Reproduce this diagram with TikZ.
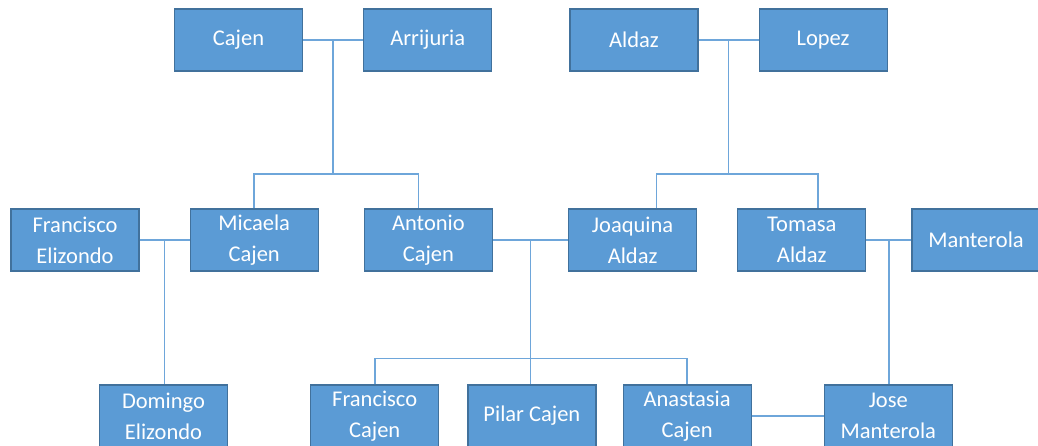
\documentclass[tikz,border=0pt]{standalone}
\usepackage{fontspec}
\setmainfont{Carlito}
\usetikzlibrary{positioning}
\definecolor{boxblue}{RGB}{91,155,213}
\definecolor{edgeblue}{RGB}{65,113,156}
\definecolor{lineblue}{RGB}{110,166,218}

\begin{document}
\begin{tikzpicture}[x=1pt,y=-1pt,every node/.style={font=\fontsize{22.5}{31}\selectfont},
  box/.style={draw=edgeblue,fill=boxblue,text=white,line width=1.2pt,minimum width=128pt,minimum height=62pt,inner sep=0pt,align=center},
  lnk/.style={lineblue,line width=1.6pt}]
\useasboundingbox (0,0) rectangle (1038,446);
% top row
\node[box] (cajen) at (238.5,40) {Cajen};
\node[box,right=60pt of cajen] (arri) {Arrijuria};
\node[box,right=77pt of arri] (aldaz) {Aldaz};
\node[box,right=60pt of aldaz] (lopez) {Lopez};
% middle row
\node[box] (fel) at (75,240) {Francisco\\Elizondo};
\node[box,right=50pt of fel] (mic) {Micaela\\Cajen};
\node[box,right=45pt of mic] (ant) {Antonio\\Cajen};
\node[box,right=75pt of ant] (joa) {Joaquina\\Aldaz};
\node[box,right=40pt of joa] (tom) {Tomasa\\Aldaz};
\node[box,right=45pt of tom] (mant) {Manterola};
% bottom row
\node[box] (dom) at (163.5,416) {Domingo\\Elizondo};
\node[box,right=82pt of dom] (fca) {Francisco\\Cajen};
\node[box,right=28pt of fca] (pil) {Pilar Cajen};
\node[box,right=26pt of pil] (ana) {Anastasia\\Cajen};
\node[box,right=72pt of ana] (jos) {Jose\\Manterola};

\draw[lnk] (cajen) -- coordinate[midway] (ca) (arri);
\draw[lnk] (ca) -- ++(0,134) coordinate (cb);
\draw[lnk] (mic.north) |- (cb) -| ([xshift=-10pt]ant.north);
\draw[lnk] (aldaz) -- coordinate[midway] (al) (lopez);
\draw[lnk] (al) -- ++(0,134) coordinate (alb);
\draw[lnk] ([xshift=24pt]joa.north) |- (alb) -| ([xshift=16pt]tom.north);
\draw[lnk] (fel) -- coordinate[midway] (fm) (mic);
\draw[lnk] (fm) -- (fm |- dom.north);
\draw[lnk] (ant) -- coordinate[midway] (aj) (joa);
\draw[lnk] (aj) -- (aj |- pil.north);
\draw[lnk] (fca.north) -- ++(0,-26) coordinate (fk) -| (ana.north);
\draw[lnk] (tom) -- coordinate[midway] (tm) (mant);
\draw[lnk] (tm) -- (tm |- jos.north);
\draw[lnk] (ana) -- (jos);
\end{tikzpicture}
\end{document}
